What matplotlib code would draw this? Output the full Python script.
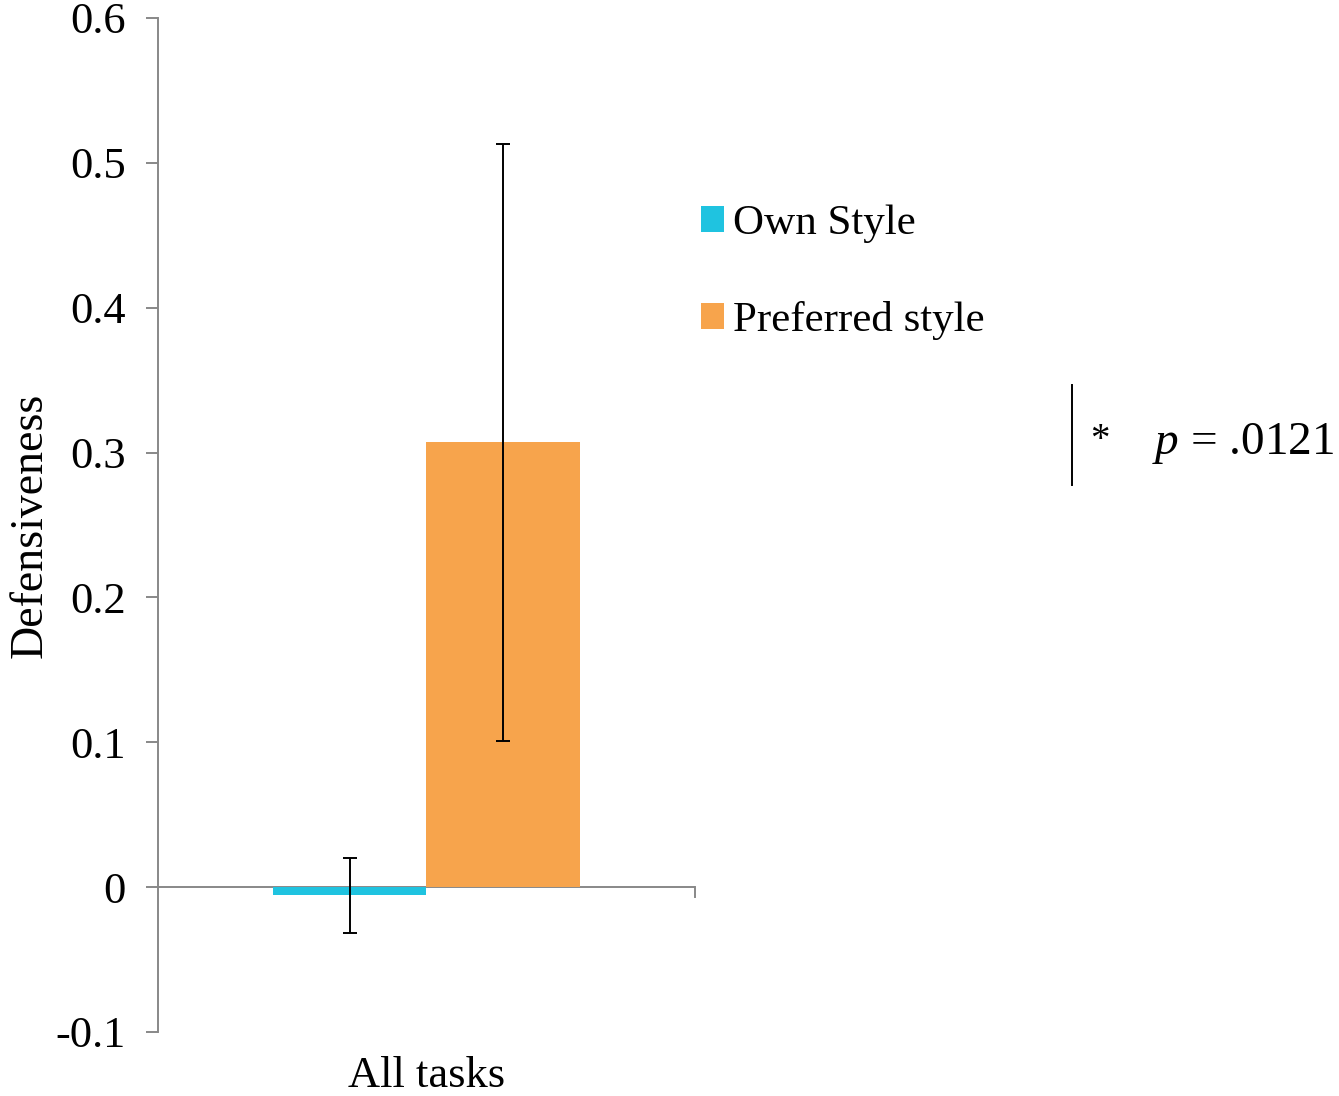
import matplotlib
matplotlib.use("Agg")
import matplotlib.pyplot as plt
import numpy as np

plt.rcParams['font.family'] = ['Liberation Serif', 'DejaVu Serif']
plt.rcParams['mathtext.fontset'] = 'custom'
plt.rcParams['mathtext.rm'] = 'Liberation Serif'
plt.rcParams['mathtext.it'] = 'Liberation Serif:italic'

categories = ["All tasks"]
series     = ["Own Style", "Preferred style"]
values     = [-0.0055, 0.307]
err_low    = [-0.032, 0.101]
err_high   = [0.020, 0.513]
colors     = ["#1FC3E0", "#F7A44C"]
yticks     = [-0.1, 0, 0.1, 0.2, 0.3, 0.4, 0.5, 0.6]
ytick_lbl  = ["-0.1", "0", "0.1", "0.2", "0.3", "0.4", "0.5", "0.6"]

fig = plt.figure(figsize=(13.39, 10.96), dpi=100)
ax = fig.add_axes([0.118, 0.0584, 0.401, 0.9252])

x = np.arange(len(categories))
width = 0.286
offsets = [-width / 2, width / 2]
for i in range(len(series)):
    v = values[i]
    lo = v - err_low[i]
    hi = err_high[i] - v
    ax.bar(x + offsets[i], [v], width=width, color=colors[i], label=series[i], zorder=2)
    ax.errorbar(x + offsets[i], [v], yerr=[[lo], [hi]], fmt='none', ecolor='black',
                elinewidth=1.4, capsize=5, capthick=1.4, zorder=3)

ax.set_xlim(-0.5, 0.5)
ax.set_ylim(-0.1, 0.6)
ax.set_yticks(yticks)
ax.set_yticklabels(ytick_lbl)
ax.tick_params(axis='y', length=9, width=1.4, color='#888888', labelsize=32, pad=14)
ax.tick_params(axis='x', length=0, labelsize=32, pad=17)
ax.set_xticks(x)
ax.set_xticklabels(categories)
for s in ['top', 'right', 'bottom']:
    ax.spines[s].set_visible(False)
ax.spines['left'].set_color('#888888')
ax.spines['left'].set_linewidth(1.4)
ax.axhline(0, color='#888888', lw=1.4, zorder=1)
# tick at the right end of the zero line
ax.plot([1, 1], [0, -0.007], color='#888888', lw=1.4,
        transform=ax.get_yaxis_transform(), clip_on=False)
ax.set_ylabel("Defensiveness", fontsize=33)
ax.yaxis.set_label_coords(-0.198, 0.5)

fig.legend(loc='upper left', bbox_to_anchor=(0.5105, 0.829), frameon=False, fontsize=31,
           handlelength=0.55, handleheight=0.55, handletextpad=0.2, labelspacing=1.35,
           borderaxespad=0)

fig.add_artist(plt.Line2D([1072 / 1339, 1072 / 1339], [1 - 385 / 1096, 1 - 485 / 1096],
                          color='black', lw=1.4))
fig.text(1090 / 1339, 1 - 440 / 1096, "*", fontsize=28, va='center', ha='left')
fig.text(1152 / 1339, 1 - 443 / 1096, "$p$ = .0121", fontsize=34, va='center', ha='left')

fig.savefig("out.png", dpi=100)
